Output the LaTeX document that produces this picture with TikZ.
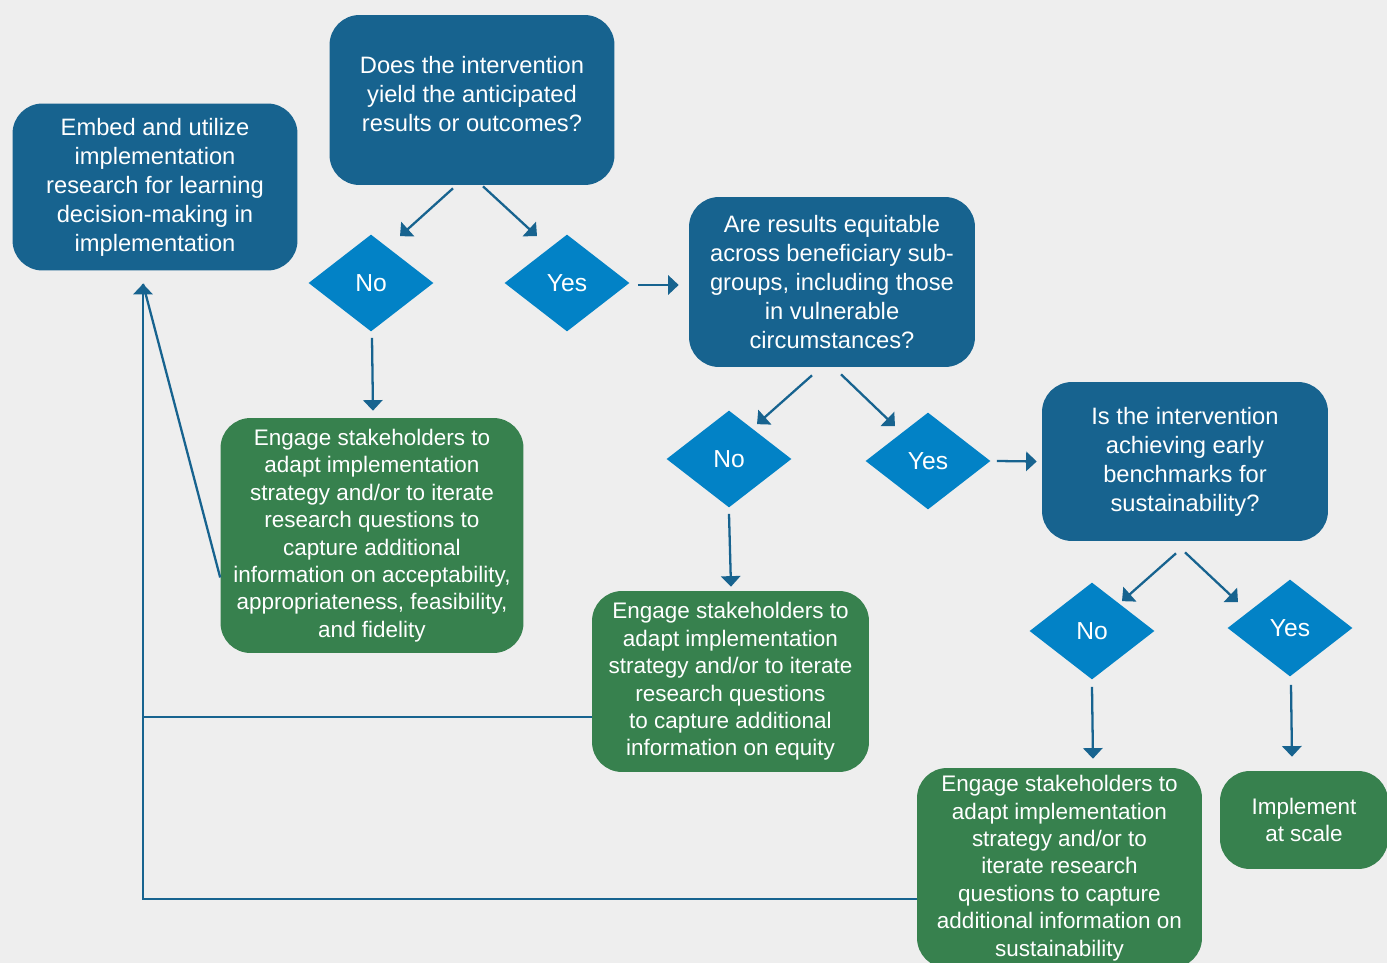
\documentclass[tikz,border=0pt]{standalone}
\usepackage{fontspec}
\setmainfont{Liberation Sans}
\usepackage{tikz}
\usetikzlibrary{shapes.geometric,arrows.meta,calc}
\definecolor{qblue}{HTML}{17638F}
\definecolor{dblue}{HTML}{0282C6}
\definecolor{agreen}{HTML}{37814E}
\definecolor{bgrey}{HTML}{EEEEEE}

\begin{document}
\begin{tikzpicture}[x=0.02cm, y=-0.02cm,
 question/.style={
      rectangle,
      fill=qblue,
      text=white,
      align=center,
      rounded corners=0.6cm,
      inner sep=0pt,
      font=\fontsize{13.5pt}{16.5pt}\selectfont
   },
 choice/.style={
      diamond,
      fill=dblue,
      text=white,
      inner sep=0pt,
      minimum width=2.5cm,
      minimum height=1.94cm,
      font=\fontsize{14pt}{16pt}\selectfont
   },
 action/.style={
      rectangle,
      fill=agreen,
      text=white,
      align=center,
      rounded corners=0.6cm,
      inner sep=0pt,
      font=\fontsize{12.8pt}{15.6pt}\selectfont
   },
 arr/.style={draw=qblue, line width=1.3pt, -{Triangle[width=11pt,length=6pt]}},
 link/.style={draw=qblue, line width=1.3pt}
 ]
 %pozadí
 \fill[bgrey] (0,0) rectangle (1387,963);
 \useasboundingbox (0,0) rectangle (1387,963);

 %embed
 \node[question, minimum width=5.7cm, minimum height=3.34cm] (embed) at (155,187) {Embed and utilize\\implementation\\research for learning\\decision-making in\\implementation};

 %otázka 1
 \node[question, minimum width=5.7cm, minimum height=3.4cm, text depth=7pt] (q1) at (472,100) {Does the intervention\\yield the anticipated\\results or outcomes?};
 \node[choice] (no1) at (371,283) {No};
 \node[choice] (yes1) at (567,283) {Yes};
 \node[action, minimum width=6.06cm, minimum height=4.7cm] (act1) at (372,535.5) {Engage stakeholders to\\adapt implementation\\strategy and/or to iterate\\research questions to\\capture additional\\information on acceptability,\\appropriateness, feasibility,\\and fidelity};

 %otázka 2
 \node[question, minimum width=5.72cm, minimum height=3.4cm] (q2) at (832,282) {Are results equitable\\across beneficiary sub-\\groups, including those\\in vulnerable\\circumstances?};
 \node[choice] (no2) at (729,459) {No};
 \node[choice] (yes2) at (928,461) {Yes};
 \node[action, minimum width=5.54cm, minimum height=3.62cm] (act2) at (730.5,681.5) {Engage stakeholders to\\adapt implementation\\strategy and/or to iterate\\research questions\\to capture additional\\information on equity};

 %otázka 3
 \node[question, minimum width=5.72cm, minimum height=3.18cm] (q3) at (1185,461.5) {Is the intervention\\achieving early\\benchmarks for\\sustainability?};
 \node[choice] (no3) at (1092,631) {No};
 \node[choice] (yes3) at (1290,628) {Yes};
 \node[action, minimum width=5.7cm, minimum height=4cm] (act3) at (1059.5,868) {Engage stakeholders to\\adapt implementation\\strategy and/or to\\iterate research\\questions to capture\\additional information on\\sustainability};
 \node[action, minimum width=3.36cm, minimum height=1.96cm] (scale) at (1304,820) {Implement\\at scale};

 %šipky
 \draw[arr] ([shift={(-19,3)}]q1.south) -- ([shift={(29,2)}]no1.north);
 \draw[arr] ([shift={(11,1)}]q1.south) -- ([shift={(-30,2)}]yes1.north);
 \draw[arr] ([shift={(8,2)}]yes1.east) -- ([shift={(-10,3)}]q2.west);
 \draw[arr] ([shift={(1,6)}]no1.south) -- ([shift={(1,-7)}]act1.north);

 \draw[arr] ([shift={(-20,8)}]q2.south) -- ([shift={(28,14)}]no2.north);
 \draw[arr] ([shift={(9,7)}]q2.south) -- ([shift={(-33,14)}]yes2.north);
 \draw[arr] ([shift={(6,0)}]yes2.east) -- ([shift={(-5,0)}]q3.west);
 \draw[arr] ([shift={(0,6)}]no2.south) -- ([shift={(0.5,-4)}]act2.north);

 \draw[arr] ([shift={(-9,12)}]q3.south) -- ([shift={(30,19)}]no3.north);
 \draw[arr] ([shift={(0,11)}]q3.south) -- ([shift={(-52,23)}]yes3.north);
 \draw[arr] ([shift={(0,7)}]no3.south) -- ([shift={(33.5,-9)}]act3.north);
 \draw[arr] ([shift={(1,8)}]yes3.south) -- ([shift={(-12,-14)}]scale.north);

 %zpětná vazba
 \coordinate (fb) at ([shift={(-12,13)}]embed.south);
 \coordinate (eq) at ([shift={(0,35.5)}]act2.west);
 \draw[link] ([shift={(0,42)}]act1.west) -- (fb);
 \draw[link] (eq) -- (eq -| fb);
 \draw[arr] ([shift={(0,31)}]act3.west) -| (fb);
\end{tikzpicture}
\end{document}
